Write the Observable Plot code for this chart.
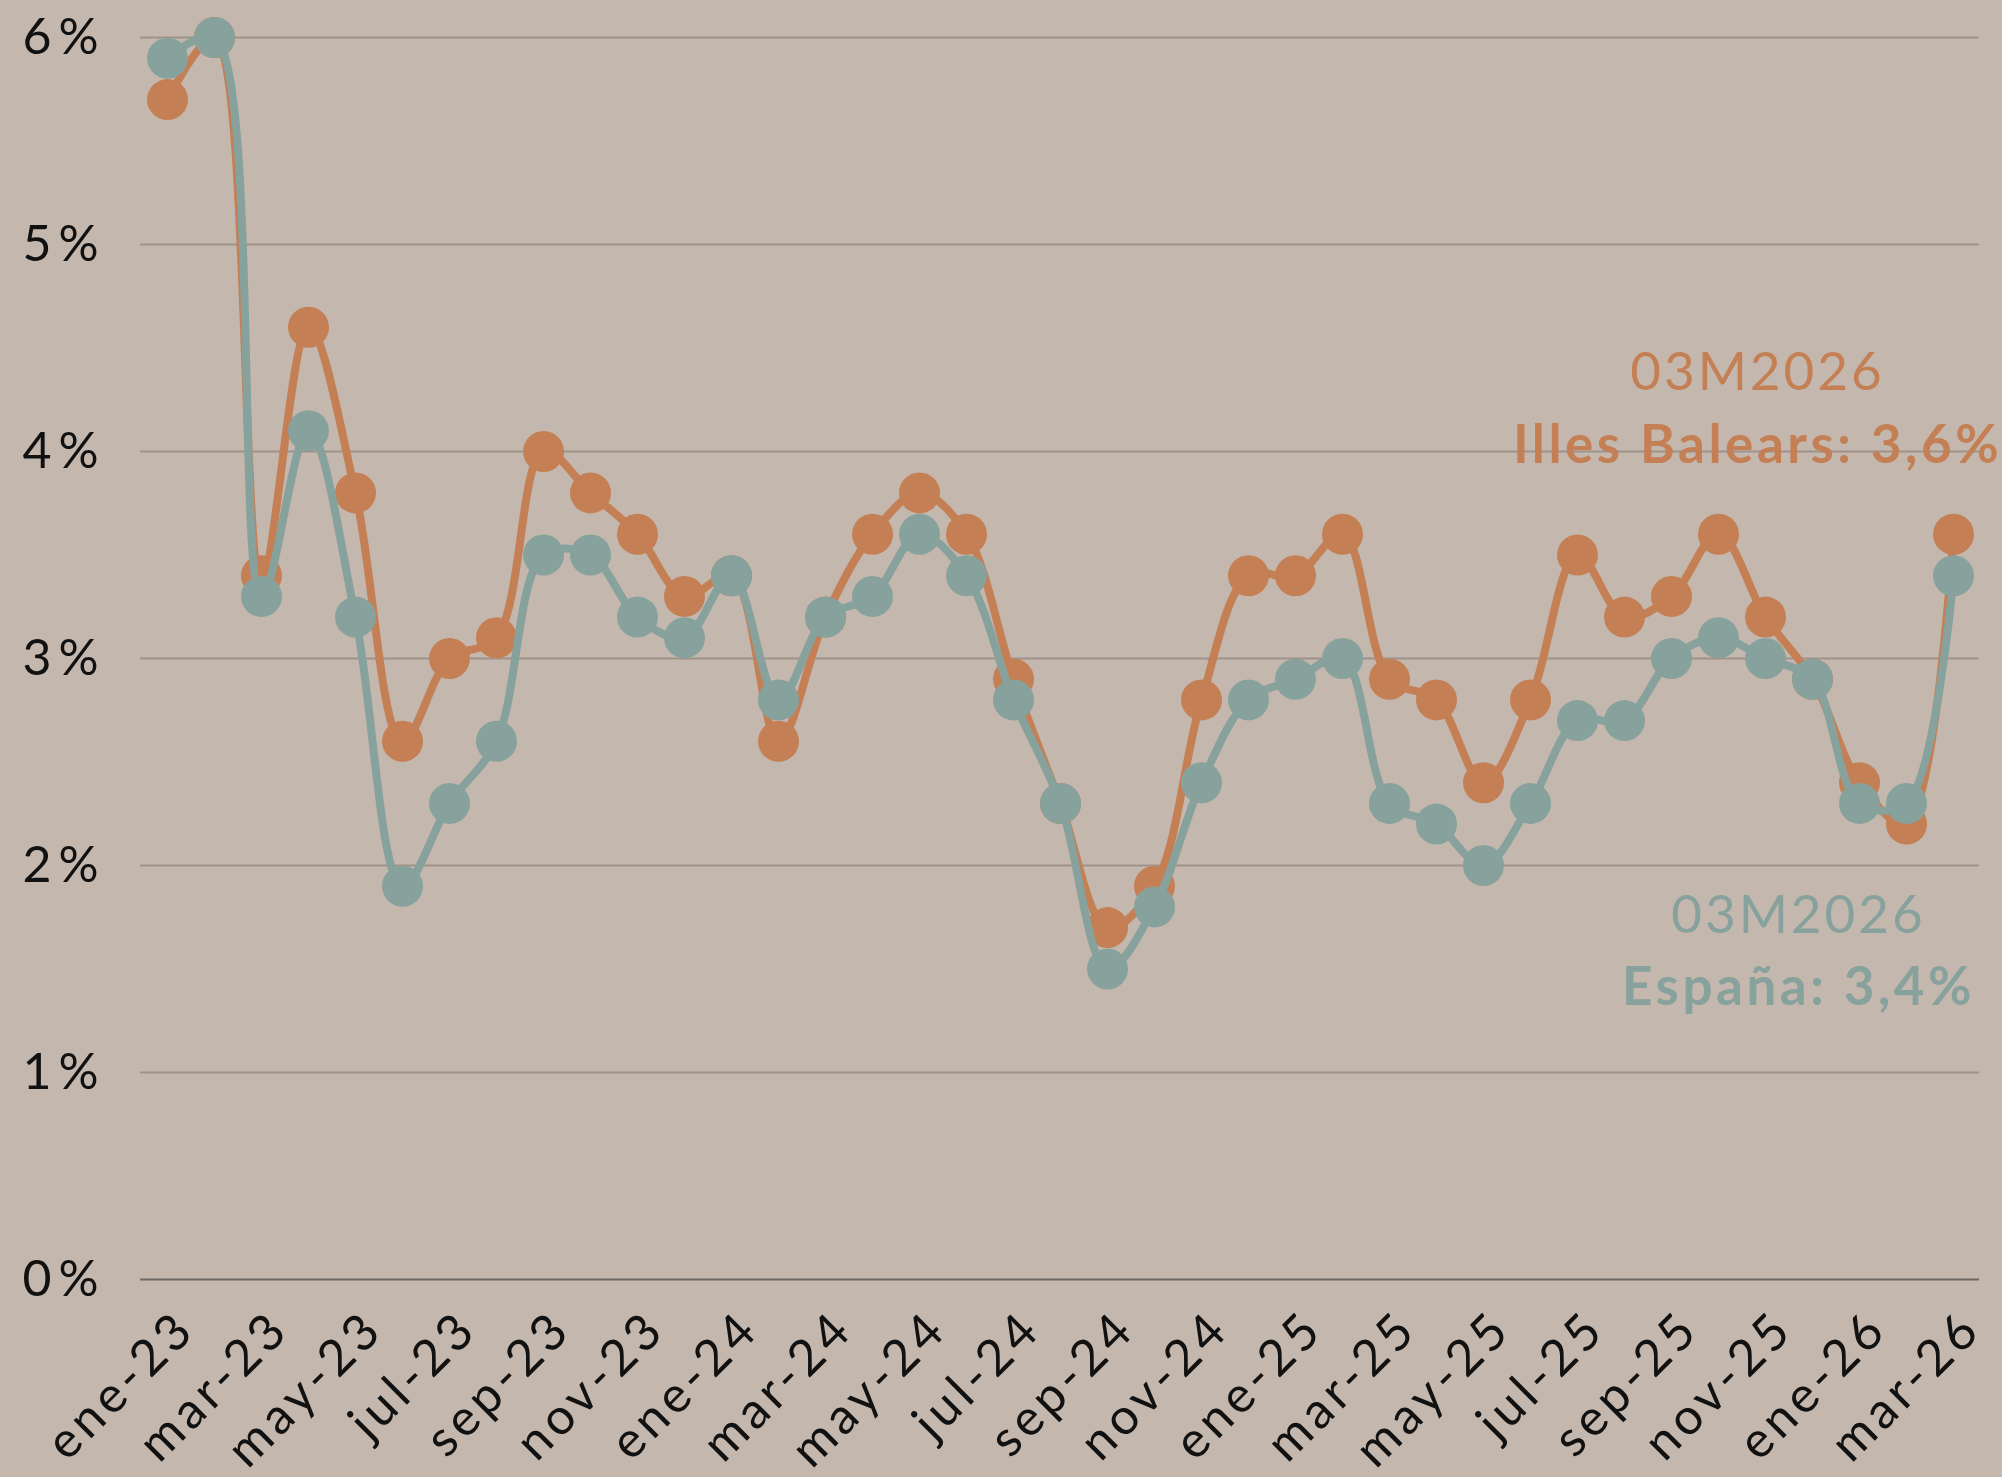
<!DOCTYPE html>
<html>
<head>
<meta charset="utf-8">
<script src="https://cdn.jsdelivr.net/npm/d3@7"></script>
<script src="https://cdn.jsdelivr.net/npm/@observablehq/plot@0.6"></script>
<style>
  html, body { margin: 0; padding: 0; background: #c4b8ae; }
  #chart { width: 2002px; height: 1477px; overflow: hidden; }
  g[aria-label="x-axis tick label"] text { letter-spacing: 4.6px; }
  g[aria-label="y-axis tick label"] text { letter-spacing: 7px; }
</style>
</head>
<body>
<div id="chart"></div>
<script>
// ---- Data ----
const months = [
  "ene-23","feb-23","mar-23","abr-23","may-23","jun-23","jul-23","ago-23","sep-23","oct-23","nov-23","dic-23",
  "ene-24","feb-24","mar-24","abr-24","may-24","jun-24","jul-24","ago-24","sep-24","oct-24","nov-24","dic-24",
  "ene-25","feb-25","mar-25","abr-25","may-25","jun-25","jul-25","ago-25","sep-25","oct-25","nov-25","dic-25",
  "ene-26","feb-26","mar-26"
];
const illesBalears = [
  5.7, 6.0, 3.4, 4.6, 3.8, 2.6, 3.0, 3.1, 4.0, 3.8, 3.6, 3.3,
  3.4, 2.6, 3.2, 3.6, 3.8, 3.6, 2.9, 2.3, 1.7, 1.9, 2.8, 3.4,
  3.4, 3.6, 2.9, 2.8, 2.4, 2.8, 3.5, 3.2, 3.3, 3.6, 3.2, 2.9,
  2.4, 2.2, 3.6
];
const espana = [
  5.9, 6.0, 3.3, 4.1, 3.2, 1.9, 2.3, 2.6, 3.5, 3.5, 3.2, 3.1,
  3.4, 2.8, 3.2, 3.3, 3.6, 3.4, 2.8, 2.3, 1.5, 1.8, 2.4, 2.8,
  2.9, 3.0, 2.3, 2.2, 2.0, 2.3, 2.7, 2.7, 3.0, 3.1, 3.0, 2.9,
  2.3, 2.3, 3.4
];
const seriesNames = ["Illes Balears", "España"];
const seriesColors = ["#c47f55", "#87a19c"];
const yTicks = [0, 1, 2, 3, 4, 5, 6];
const xTickLabels = months.filter((d, i) => i % 2 === 0);
const annotationPeriod = "03M2026";
const lastValueText = ["Illes Balears: 3,6%", "España: 3,4%"];

// ---- Build table ----
const rows = [];
months.forEach((m, i) => {
  rows.push({month: m, serie: seriesNames[0], value: illesBalears[i]});
  rows.push({month: m, serie: seriesNames[1], value: espana[i]});
});

const FONT = "Lato, 'Noto Sans', sans-serif";
const seriesMarks = seriesNames.flatMap((s, k) => {
  const d = rows.filter(r => r.serie === s);
  return [
    Plot.line(d, {x: "month", y: "value", stroke: seriesColors[k], strokeWidth: 8, curve: "catmull-rom"}),
    Plot.dot(d, {x: "month", y: "value", r: 20.5, fill: seriesColors[k], stroke: "none"})
  ];
});

const annot = (txt, color, weight, dx, dy) =>
  Plot.text([txt], {
    text: d => d, frameAnchor: "top-left", dx, dy,
    fill: color, fontWeight: weight, fontSize: 53, textAnchor: "middle", lineAnchor: "middle",
    fontFamily: FONT
  });

const chart = Plot.plot({
  width: 2002,
  height: 1477,
  marginLeft: 140,
  marginRight: 23,
  marginTop: 37,
  marginBottom: 198,
  style: {background: "#c4b8ae", fontFamily: FONT, fontSize: "50px", color: "#111", overflow: "visible"},
  x: {type: "point", domain: months, padding: 0.5, label: null},
  y: {domain: [0, 6], label: null},
  marks: [
    Plot.gridY(yTicks.filter(d => d > 0), {stroke: "#9d9189", strokeOpacity: 1, strokeWidth: 2}),
    Plot.ruleY([0], {stroke: "#6f6965", strokeWidth: 2}),
    Plot.axisY({ticks: yTicks, tickFormat: d => d + "%", tickSize: 0, tickPadding: 35, fontSize: 50, fill: "#111"}),
    Plot.axisX({ticks: xTickLabels, tickRotate: -45, tickSize: 0, tickPadding: 41, dx: 19, fontSize: 50, fill: "#111"}),
    ...seriesMarks,
    annot(annotationPeriod, seriesColors[0], 400, 1757 - 140, 373 - 37),
    annot(lastValueText[0], seriesColors[0], 700, 1757 - 140, 446 - 37),
    annot(annotationPeriod, seriesColors[1], 400, 1798 - 140, 916 - 37),
    annot(lastValueText[1], seriesColors[1], 700, 1798 - 140, 988 - 37)
  ]
});
document.getElementById("chart").appendChild(chart);
// widen the annotation lettering to match the reference's wide typeface
d3.select(chart).selectAll("text")
  .filter(function () { return this.textContent === annotationPeriod; })
  .style("letter-spacing", "3px");
d3.select(chart).selectAll("text")
  .filter(function () { return lastValueText.includes(this.textContent); })
  .style("letter-spacing", "3.5px");
</script>
</body>
</html>
